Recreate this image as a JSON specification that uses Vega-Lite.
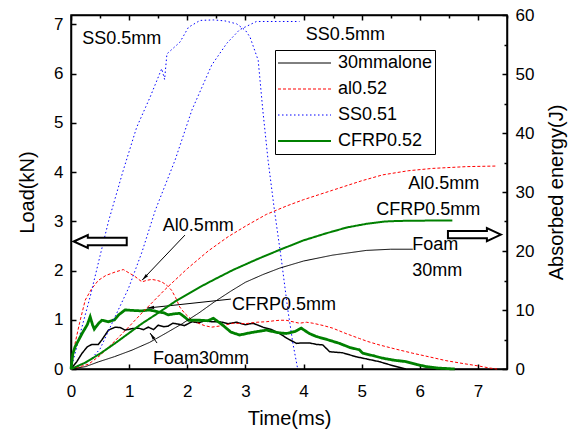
{
  "$schema": "https://vega.github.io/schema/vega-lite/v6.json",
  "width": 436,
  "height": 354,
  "autosize": {"type": "none"},
  "padding": {"left": 71, "top": 15, "right": 69, "bottom": 66},
  "background": "white",
  "config": {
    "font": "Liberation Sans",
    "view": {"stroke": "black", "strokeWidth": 1.5},
    "axis": {"labelFont": "Liberation Sans", "titleFont": "Liberation Sans", "labelFontSize": 17, "titleFontSize": 20, "titleFontWeight": "normal", "labelColor": "black", "titleColor": "black", "domainColor": "black", "domainWidth": 1.5, "tickColor": "black", "tickWidth": 1.5, "grid": false, "labelFlush": false, "labelOverlap": false},
    "legend": {"labelFont": "Liberation Sans", "labelFontSize": 18, "labelColor": "black", "strokeColor": "black", "padding": 2, "symbolType": "stroke", "symbolSize": 2809, "labelOffset": 6, "rowPadding": 4, "clipHeight": 22, "symbolOpacity": 1}
  },
  "datasets": {
    "load": [
      {"series": "30mmalone", "t": 0, "v": 0}, {"series": "30mmalone", "t": 0.1, "v": 0.15}, {"series": "30mmalone", "t": 0.19, "v": 0.32}, {"series": "30mmalone", "t": 0.28, "v": 0.45}, {"series": "30mmalone", "t": 0.36, "v": 0.5}, {"series": "30mmalone", "t": 0.47, "v": 0.5}, {"series": "30mmalone", "t": 0.53, "v": 0.59}, {"series": "30mmalone", "t": 0.645, "v": 0.79}, {"series": "30mmalone", "t": 0.76, "v": 0.85}, {"series": "30mmalone", "t": 0.85, "v": 0.84}, {"series": "30mmalone", "t": 0.93, "v": 0.79}, {"series": "30mmalone", "t": 1.05, "v": 0.82}, {"series": "30mmalone", "t": 1.16, "v": 0.83}, {"series": "30mmalone", "t": 1.25, "v": 0.8}, {"series": "30mmalone", "t": 1.33, "v": 0.85}, {"series": "30mmalone", "t": 1.42, "v": 0.8}, {"series": "30mmalone", "t": 1.5, "v": 0.89}, {"series": "30mmalone", "t": 1.6, "v": 0.86}, {"series": "30mmalone", "t": 1.67, "v": 0.87}, {"series": "30mmalone", "t": 1.75, "v": 0.93}, {"series": "30mmalone", "t": 1.85, "v": 0.91}, {"series": "30mmalone", "t": 1.95, "v": 0.88}, {"series": "30mmalone", "t": 2.08, "v": 0.96}, {"series": "30mmalone", "t": 2.2, "v": 0.94}, {"series": "30mmalone", "t": 2.3, "v": 0.98}, {"series": "30mmalone", "t": 2.42, "v": 0.96}, {"series": "30mmalone", "t": 2.56, "v": 0.96}, {"series": "30mmalone", "t": 2.7, "v": 0.92}, {"series": "30mmalone", "t": 2.85, "v": 0.95}, {"series": "30mmalone", "t": 3.0, "v": 0.9}, {"series": "30mmalone", "t": 3.13, "v": 0.93}, {"series": "30mmalone", "t": 3.3, "v": 0.85}, {"series": "30mmalone", "t": 3.45, "v": 0.8}, {"series": "30mmalone", "t": 3.59, "v": 0.72}, {"series": "30mmalone", "t": 3.72, "v": 0.62}, {"series": "30mmalone", "t": 3.88, "v": 0.52}, {"series": "30mmalone", "t": 3.98, "v": 0.53}, {"series": "30mmalone", "t": 4.1, "v": 0.53}, {"series": "30mmalone", "t": 4.22, "v": 0.5}, {"series": "30mmalone", "t": 4.33, "v": 0.49}, {"series": "30mmalone", "t": 4.45, "v": 0.35}, {"series": "30mmalone", "t": 4.67, "v": 0.33}, {"series": "30mmalone", "t": 4.9, "v": 0.25}, {"series": "30mmalone", "t": 5.1, "v": 0.2}, {"series": "30mmalone", "t": 5.3, "v": 0.15}, {"series": "30mmalone", "t": 5.5, "v": 0.08}, {"series": "30mmalone", "t": 5.76, "v": 0.0},
      {"series": "al0.52", "t": 0, "v": 0}, {"series": "al0.52", "t": 0.07, "v": 0.52}, {"series": "al0.52", "t": 0.15, "v": 0.95}, {"series": "al0.52", "t": 0.245, "v": 1.4}, {"series": "al0.52", "t": 0.35, "v": 1.62}, {"series": "al0.52", "t": 0.47, "v": 1.8}, {"series": "al0.52", "t": 0.6, "v": 1.9}, {"series": "al0.52", "t": 0.76, "v": 1.97}, {"series": "al0.52", "t": 0.9, "v": 2.02}, {"series": "al0.52", "t": 1.0, "v": 1.95}, {"series": "al0.52", "t": 1.1, "v": 1.88}, {"series": "al0.52", "t": 1.22, "v": 1.77}, {"series": "al0.52", "t": 1.3, "v": 1.8}, {"series": "al0.52", "t": 1.39, "v": 1.82}, {"series": "al0.52", "t": 1.48, "v": 1.8}, {"series": "al0.52", "t": 1.56, "v": 1.77}, {"series": "al0.52", "t": 1.65, "v": 1.7}, {"series": "al0.52", "t": 1.73, "v": 1.6}, {"series": "al0.52", "t": 1.8, "v": 1.45}, {"series": "al0.52", "t": 1.87, "v": 1.26}, {"series": "al0.52", "t": 1.95, "v": 1.14}, {"series": "al0.52", "t": 2.02, "v": 1.06}, {"series": "al0.52", "t": 2.1, "v": 0.98}, {"series": "al0.52", "t": 2.19, "v": 0.93}, {"series": "al0.52", "t": 2.3, "v": 0.88}, {"series": "al0.52", "t": 2.42, "v": 0.85}, {"series": "al0.52", "t": 2.6, "v": 0.88}, {"series": "al0.52", "t": 2.79, "v": 0.93}, {"series": "al0.52", "t": 3.0, "v": 0.92}, {"series": "al0.52", "t": 3.2, "v": 0.95}, {"series": "al0.52", "t": 3.36, "v": 0.96}, {"series": "al0.52", "t": 3.5, "v": 0.98}, {"series": "al0.52", "t": 3.59, "v": 0.99}, {"series": "al0.52", "t": 3.7, "v": 0.99}, {"series": "al0.52", "t": 3.85, "v": 0.95}, {"series": "al0.52", "t": 3.93, "v": 0.93}, {"series": "al0.52", "t": 4.05, "v": 0.95}, {"series": "al0.52", "t": 4.16, "v": 0.93}, {"series": "al0.52", "t": 4.35, "v": 0.88}, {"series": "al0.52", "t": 4.5, "v": 0.83}, {"series": "al0.52", "t": 4.73, "v": 0.72}, {"series": "al0.52", "t": 4.96, "v": 0.62}, {"series": "al0.52", "t": 5.1, "v": 0.56}, {"series": "al0.52", "t": 5.3, "v": 0.49}, {"series": "al0.52", "t": 5.6, "v": 0.4}, {"series": "al0.52", "t": 5.88, "v": 0.32}, {"series": "al0.52", "t": 6.15, "v": 0.25}, {"series": "al0.52", "t": 6.45, "v": 0.17}, {"series": "al0.52", "t": 6.75, "v": 0.11}, {"series": "al0.52", "t": 7.02, "v": 0.06}, {"series": "al0.52", "t": 7.2, "v": 0.02}, {"series": "al0.52", "t": 7.33, "v": 0.0},
      {"series": "SS0.51", "t": 0, "v": 0}, {"series": "SS0.51", "t": 0.1, "v": 0.45}, {"series": "SS0.51", "t": 0.19, "v": 0.86}, {"series": "SS0.51", "t": 0.33, "v": 1.47}, {"series": "SS0.51", "t": 0.5, "v": 2.3}, {"series": "SS0.51", "t": 0.65, "v": 3.02}, {"series": "SS0.51", "t": 0.9, "v": 4.04}, {"series": "SS0.51", "t": 1.13, "v": 4.91}, {"series": "SS0.51", "t": 1.36, "v": 5.52}, {"series": "SS0.51", "t": 1.56, "v": 6.1}, {"series": "SS0.51", "t": 1.61, "v": 5.88}, {"series": "SS0.51", "t": 1.65, "v": 6.4}, {"series": "SS0.51", "t": 1.875, "v": 6.64}, {"series": "SS0.51", "t": 2.02, "v": 6.94}, {"series": "SS0.51", "t": 2.22, "v": 7.08}, {"series": "SS0.51", "t": 2.45, "v": 7.09}, {"series": "SS0.51", "t": 2.65, "v": 7.07}, {"series": "SS0.51", "t": 2.85, "v": 7.01}, {"series": "SS0.51", "t": 3.0, "v": 6.88}, {"series": "SS0.51", "t": 3.08, "v": 6.74}, {"series": "SS0.51", "t": 3.22, "v": 6.27}, {"series": "SS0.51", "t": 3.3, "v": 5.25}, {"series": "SS0.51", "t": 3.39, "v": 4.24}, {"series": "SS0.51", "t": 3.5, "v": 3.22}, {"series": "SS0.51", "t": 3.62, "v": 2.21}, {"series": "SS0.51", "t": 3.73, "v": 1.2}, {"series": "SS0.51", "t": 3.82, "v": 0.5}, {"series": "SS0.51", "t": 3.9, "v": 0.0},
      {"series": "CFRP0.52", "t": 0, "v": 0}, {"series": "CFRP0.52", "t": 0.03, "v": 0.3}, {"series": "CFRP0.52", "t": 0.07, "v": 0.45}, {"series": "CFRP0.52", "t": 0.19, "v": 0.72}, {"series": "CFRP0.52", "t": 0.28, "v": 0.9}, {"series": "CFRP0.52", "t": 0.33, "v": 1.06}, {"series": "CFRP0.52", "t": 0.37, "v": 0.9}, {"series": "CFRP0.52", "t": 0.4, "v": 0.81}, {"series": "CFRP0.52", "t": 0.47, "v": 0.92}, {"series": "CFRP0.52", "t": 0.53, "v": 0.99}, {"series": "CFRP0.52", "t": 0.645, "v": 0.96}, {"series": "CFRP0.52", "t": 0.75, "v": 1.0}, {"series": "CFRP0.52", "t": 0.82, "v": 1.1}, {"series": "CFRP0.52", "t": 0.93, "v": 1.2}, {"series": "CFRP0.52", "t": 1.05, "v": 1.19}, {"series": "CFRP0.52", "t": 1.22, "v": 1.18}, {"series": "CFRP0.52", "t": 1.35, "v": 1.2}, {"series": "CFRP0.52", "t": 1.5, "v": 1.16}, {"series": "CFRP0.52", "t": 1.6, "v": 1.14}, {"series": "CFRP0.52", "t": 1.67, "v": 1.1}, {"series": "CFRP0.52", "t": 1.77, "v": 1.12}, {"series": "CFRP0.52", "t": 1.87, "v": 1.13}, {"series": "CFRP0.52", "t": 1.95, "v": 1.06}, {"series": "CFRP0.52", "t": 2.02, "v": 0.99}, {"series": "CFRP0.52", "t": 2.22, "v": 0.99}, {"series": "CFRP0.52", "t": 2.35, "v": 0.98}, {"series": "CFRP0.52", "t": 2.45, "v": 1.03}, {"series": "CFRP0.52", "t": 2.6, "v": 0.9}, {"series": "CFRP0.52", "t": 2.75, "v": 0.75}, {"series": "CFRP0.52", "t": 2.9, "v": 0.69}, {"series": "CFRP0.52", "t": 3.1, "v": 0.74}, {"series": "CFRP0.52", "t": 3.36, "v": 0.79}, {"series": "CFRP0.52", "t": 3.55, "v": 0.74}, {"series": "CFRP0.52", "t": 3.7, "v": 0.72}, {"series": "CFRP0.52", "t": 3.85, "v": 0.76}, {"series": "CFRP0.52", "t": 3.96, "v": 0.83}, {"series": "CFRP0.52", "t": 4.1, "v": 0.72}, {"series": "CFRP0.52", "t": 4.22, "v": 0.66}, {"series": "CFRP0.52", "t": 4.4, "v": 0.6}, {"series": "CFRP0.52", "t": 4.62, "v": 0.52}, {"series": "CFRP0.52", "t": 4.79, "v": 0.44}, {"series": "CFRP0.52", "t": 4.96, "v": 0.39}, {"series": "CFRP0.52", "t": 5.02, "v": 0.32}, {"series": "CFRP0.52", "t": 5.2, "v": 0.27}, {"series": "CFRP0.52", "t": 5.36, "v": 0.22}, {"series": "CFRP0.52", "t": 5.55, "v": 0.18}, {"series": "CFRP0.52", "t": 5.76, "v": 0.15}, {"series": "CFRP0.52", "t": 5.95, "v": 0.09}, {"series": "CFRP0.52", "t": 6.11, "v": 0.05}, {"series": "CFRP0.52", "t": 6.3, "v": 0.02}, {"series": "CFRP0.52", "t": 6.6, "v": 0.0}
    ],
    "energy": [
      {"series": "30mmalone", "t": 0, "v": 0}, {"series": "30mmalone", "t": 0.25, "v": 0.4}, {"series": "30mmalone", "t": 0.47, "v": 1.2}, {"series": "30mmalone", "t": 0.75, "v": 2.1}, {"series": "30mmalone", "t": 1.05, "v": 3.2}, {"series": "30mmalone", "t": 1.35, "v": 4.5}, {"series": "30mmalone", "t": 1.62, "v": 6.0}, {"series": "30mmalone", "t": 1.9, "v": 7.6}, {"series": "30mmalone", "t": 2.2, "v": 9.5}, {"series": "30mmalone", "t": 2.47, "v": 11.4}, {"series": "30mmalone", "t": 2.75, "v": 13.2}, {"series": "30mmalone", "t": 3.0, "v": 14.7}, {"series": "30mmalone", "t": 3.3, "v": 16.0}, {"series": "30mmalone", "t": 3.59, "v": 17.1}, {"series": "30mmalone", "t": 4.0, "v": 18.3}, {"series": "30mmalone", "t": 4.5, "v": 19.3}, {"series": "30mmalone", "t": 5.08, "v": 20.1}, {"series": "30mmalone", "t": 5.5, "v": 20.3}, {"series": "30mmalone", "t": 5.88, "v": 20.3},
      {"series": "al0.52", "t": 0, "v": 0}, {"series": "al0.52", "t": 0.3, "v": 0.8}, {"series": "al0.52", "t": 0.5, "v": 2.3}, {"series": "al0.52", "t": 0.75, "v": 4.7}, {"series": "al0.52", "t": 1.0, "v": 7.2}, {"series": "al0.52", "t": 1.22, "v": 9.5}, {"series": "al0.52", "t": 1.62, "v": 13.5}, {"series": "al0.52", "t": 2.0, "v": 17.0}, {"series": "al0.52", "t": 2.36, "v": 20.0}, {"series": "al0.52", "t": 2.7, "v": 22.4}, {"series": "al0.52", "t": 3.0, "v": 24.2}, {"series": "al0.52", "t": 3.36, "v": 26.2}, {"series": "al0.52", "t": 3.7, "v": 27.6}, {"series": "al0.52", "t": 4.0, "v": 28.7}, {"series": "al0.52", "t": 4.5, "v": 30.3}, {"series": "al0.52", "t": 5.0, "v": 31.9}, {"series": "al0.52", "t": 5.36, "v": 32.9}, {"series": "al0.52", "t": 5.8, "v": 33.6}, {"series": "al0.52", "t": 6.22, "v": 34.0}, {"series": "al0.52", "t": 6.8, "v": 34.3}, {"series": "al0.52", "t": 7.31, "v": 34.4},
      {"series": "SS0.51", "t": 0, "v": 0}, {"series": "SS0.51", "t": 0.3, "v": 1.2}, {"series": "SS0.51", "t": 0.5, "v": 3.4}, {"series": "SS0.51", "t": 0.76, "v": 8.9}, {"series": "SS0.51", "t": 0.99, "v": 13.7}, {"series": "SS0.51", "t": 1.22, "v": 19.8}, {"series": "SS0.51", "t": 1.45, "v": 26.9}, {"series": "SS0.51", "t": 1.79, "v": 35.4}, {"series": "SS0.51", "t": 2.08, "v": 43.9}, {"series": "SS0.51", "t": 2.42, "v": 51.5}, {"series": "SS0.51", "t": 2.68, "v": 55.2}, {"series": "SS0.51", "t": 2.9, "v": 57.5}, {"series": "SS0.51", "t": 3.19, "v": 58.9}, {"series": "SS0.51", "t": 3.59, "v": 58.9}, {"series": "SS0.51", "t": 3.93, "v": 58.9},
      {"series": "CFRP0.52", "t": 0, "v": 0}, {"series": "CFRP0.52", "t": 0.25, "v": 1.1}, {"series": "CFRP0.52", "t": 0.5, "v": 2.6}, {"series": "CFRP0.52", "t": 0.75, "v": 4.3}, {"series": "CFRP0.52", "t": 1.0, "v": 6.1}, {"series": "CFRP0.52", "t": 1.22, "v": 7.7}, {"series": "CFRP0.52", "t": 1.5, "v": 9.5}, {"series": "CFRP0.52", "t": 1.8, "v": 11.5}, {"series": "CFRP0.52", "t": 2.22, "v": 13.9}, {"series": "CFRP0.52", "t": 2.47, "v": 15.2}, {"series": "CFRP0.52", "t": 2.79, "v": 16.8}, {"series": "CFRP0.52", "t": 3.2, "v": 18.6}, {"series": "CFRP0.52", "t": 3.59, "v": 20.2}, {"series": "CFRP0.52", "t": 4.0, "v": 21.8}, {"series": "CFRP0.52", "t": 4.39, "v": 23.0}, {"series": "CFRP0.52", "t": 4.75, "v": 24.0}, {"series": "CFRP0.52", "t": 5.08, "v": 24.6}, {"series": "CFRP0.52", "t": 5.4, "v": 25.0}, {"series": "CFRP0.52", "t": 5.65, "v": 25.1}, {"series": "CFRP0.52", "t": 6.1, "v": 25.15}, {"series": "CFRP0.52", "t": 6.56, "v": 25.15}
    ],
    "notes": [
      {"t": 0.194, "v": 6.61, "label": "SS0.5mm"},
      {"t": 4.04, "v": 6.69, "label": "SS0.5mm"},
      {"t": 1.58, "v": 2.8, "label": "Al0.5mm"},
      {"t": 2.77, "v": 1.2, "label": "CFRP0.5mm"},
      {"t": 1.41, "v": 0.1, "label": "Foam30mm"},
      {"t": 5.8, "v": 3.65, "label": "Al0.5mm"},
      {"t": 5.25, "v": 3.12, "label": "CFRP0.5mm"},
      {"t": 5.87, "v": 2.41, "label": "Foam"},
      {"t": 5.87, "v": 1.89, "label": "30mm"}
    ],
    "leaders": [
      {"t": 1.96, "v": 2.72, "t2": 1.223, "v2": 1.805},
      {"t": 2.75, "v": 1.42, "t2": 1.309, "v2": 1.237},
      {"t": 1.48, "v": 0.527, "t2": 1.36, "v2": 0.73}
    ],
    "heads": [
      {"t": 1.223, "v": 1.805, "name": "al"},
      {"t": 1.309, "v": 1.237, "name": "cfrp"},
      {"t": 1.36, "v": 0.73, "name": "foam"}
    ],
    "arrows": [
      {"t": 0.503, "v": 2.59, "dir": "left"},
      {"t": 6.94, "v": 2.73, "dir": "right"}
    ]
  },
  "layer": [
    {
      "layer": [
        {
          "data": {"name": "load"},
          "mark": {"type": "line"},
          "encoding": {
            "x": {"field": "t", "type": "quantitative", "scale": {"domain": [0, 7.5], "nice": false},
              "axis": {"orient": "bottom", "values": [0, 0.5, 1, 1.5, 2, 2.5, 3, 3.5, 4, 4.5, 5, 5.5, 6, 6.5, 7, 7.5], "tickSize": {"condition": {"test": "datum.value % 1 === 0", "value": -5}, "value": -3}, "labelExpr": "datum.value % 1 === 0 ? '' + datum.value : ''", "labelPadding": 19, "title": "Time(ms)", "titlePadding": 9}},
            "y": {"field": "v", "type": "quantitative", "scale": {"domain": [0, 7.19], "nice": false},
              "axis": {"orient": "left", "values": [0, 0.5, 1, 1.5, 2, 2.5, 3, 3.5, 4, 4.5, 5, 5.5, 6, 6.5, 7], "tickSize": {"condition": {"test": "datum.value % 1 === 0", "value": -5}, "value": -3}, "labelExpr": "datum.value % 1 === 0 ? '' + datum.value : ''", "labelPadding": 13, "title": "Load(kN)", "titlePadding": 16}},
            "color": {"field": "series", "type": "nominal", "scale": {"domain": ["30mmalone", "al0.52", "SS0.51", "CFRP0.52"], "range": ["#000000", "#FF0000", "#0000FF", "#008000"]}, "legend": {"title": null, "orient": "none", "legendX": 204, "legendY": 35, "labelExpr": "datum.label + '\u00a0\u00a0\u00a0\u00a0\u00a0\u00a0\u00a0'"}},
            "strokeDash": {"field": "series", "type": "nominal", "scale": {"domain": ["30mmalone", "al0.52", "SS0.51", "CFRP0.52"], "range": [[1, 0], [3, 2], [1.5, 2.5], [1, 0]]}, "legend": {"title": null, "orient": "none", "legendX": 204, "legendY": 35, "labelExpr": "datum.label + '\u00a0\u00a0\u00a0\u00a0\u00a0\u00a0\u00a0'"}},
            "strokeWidth": {"condition": [{"test": "datum.series === 'CFRP0.52'", "value": 2.8}, {"test": "datum.series === '30mmalone'", "value": 1.5}], "value": 1}
          }
        },
        {
          "data": {"name": "notes"},
          "mark": {"type": "text", "align": "left", "baseline": "alphabetic", "fontSize": 18, "font": "Liberation Sans", "color": "black"},
          "encoding": {
            "x": {"field": "t", "type": "quantitative", "scale": {"domain": [0, 7.5], "nice": false}},
            "y": {"field": "v", "type": "quantitative", "scale": {"domain": [0, 7.19], "nice": false}},
            "text": {"field": "label"}
          }
        },
        {
          "data": {"name": "leaders"},
          "mark": {"type": "rule", "color": "black", "strokeWidth": 1},
          "encoding": {
            "x": {"field": "t", "type": "quantitative", "scale": {"domain": [0, 7.5], "nice": false}},
            "y": {"field": "v", "type": "quantitative", "scale": {"domain": [0, 7.19], "nice": false}},
            "x2": {"field": "t2"},
            "y2": {"field": "v2"}
          }
        },
        {
          "data": {"name": "heads"},
          "mark": {"type": "point", "shape": "M0,0L0.45,2L-0.45,2Z", "filled": true, "color": "black", "opacity": 1, "size": 49},
          "encoding": {
            "x": {"field": "t", "type": "quantitative", "scale": {"domain": [0, 7.5], "nice": false}},
            "y": {"field": "v", "type": "quantitative", "scale": {"domain": [0, 7.19], "nice": false}},
            "angle": {"condition": [{"test": "datum.name === 'al'", "value": 224}, {"test": "datum.name === 'cfrp'", "value": 264}], "value": 325}
          }
        },
        {
          "data": {"name": "arrows"},
          "mark": {"type": "point", "filled": false, "fill": "white", "stroke": "black", "strokeWidth": 2, "opacity": 1, "fillOpacity": 1, "size": 2809},
          "encoding": {
            "x": {"field": "t", "type": "quantitative", "scale": {"domain": [0, 7.5], "nice": false}},
            "y": {"field": "v", "type": "quantitative", "scale": {"domain": [0, 7.19], "nice": false}},
            "shape": {"condition": {"test": "datum.dir === 'left'", "value": "M-1,0L-0.47,-0.245L-0.47,-0.14L1,-0.14L1,0.14L-0.47,0.14L-0.47,0.245Z"}, "value": "M1,0L0.47,-0.245L0.47,-0.14L-1,-0.14L-1,0.14L0.47,0.14L0.47,0.245Z"}
          }
        }
      ]
    },
    {
      "data": {"name": "energy"},
      "mark": {"type": "line"},
      "encoding": {
        "x": {"field": "t", "type": "quantitative", "scale": {"domain": [0, 7.5], "nice": false},
          "axis": {"orient": "top", "values": [0, 0.5, 1, 1.5, 2, 2.5, 3, 3.5, 4, 4.5, 5, 5.5, 6, 6.5, 7, 7.5], "tickSize": {"condition": {"test": "datum.value % 1 === 0", "value": -5}, "value": -3}, "labels": false, "title": null}},
        "y": {"field": "v", "type": "quantitative", "scale": {"domain": [0, 60], "nice": false},
          "axis": {"orient": "right", "values": [0, 5, 10, 15, 20, 25, 30, 35, 40, 45, 50, 55, 60], "tickSize": {"condition": {"test": "datum.value % 10 === 0", "value": -5}, "value": -3}, "labelExpr": "datum.value % 10 === 0 ? '' + datum.value : ''", "labelPadding": 13, "title": "Absorbed energy(J)", "titleAngle": 270, "titleBaseline": "top", "titlePadding": 13}},
        "color": {"field": "series", "type": "nominal", "scale": {"domain": ["30mmalone", "al0.52", "SS0.51", "CFRP0.52"], "range": ["#000000", "#FF0000", "#0000FF", "#008000"]}, "legend": {"title": null, "orient": "none", "legendX": 204, "legendY": 35, "labelExpr": "datum.label + '\u00a0\u00a0\u00a0\u00a0\u00a0\u00a0\u00a0'"}},
        "strokeDash": {"field": "series", "type": "nominal", "scale": {"domain": ["30mmalone", "al0.52", "SS0.51", "CFRP0.52"], "range": [[1, 0], [3, 2], [1.5, 2.5], [1, 0]]}, "legend": {"title": null, "orient": "none", "legendX": 204, "legendY": 35, "labelExpr": "datum.label + '\u00a0\u00a0\u00a0\u00a0\u00a0\u00a0\u00a0'"}},
        "strokeWidth": {"field": "series", "type": "nominal", "scale": {"type": "ordinal", "domain": ["30mmalone", "al0.52", "SS0.51", "CFRP0.52"], "range": [1, 1, 1, 2]}, "legend": {"title": null, "orient": "none", "legendX": 204, "legendY": 35, "labelExpr": "datum.label + '\u00a0\u00a0\u00a0\u00a0\u00a0\u00a0\u00a0'"}}
      }
    }
  ],
  "resolve": {"scale": {"x": "independent", "y": "independent"}, "axis": {"x": "independent", "y": "independent"}}
}
